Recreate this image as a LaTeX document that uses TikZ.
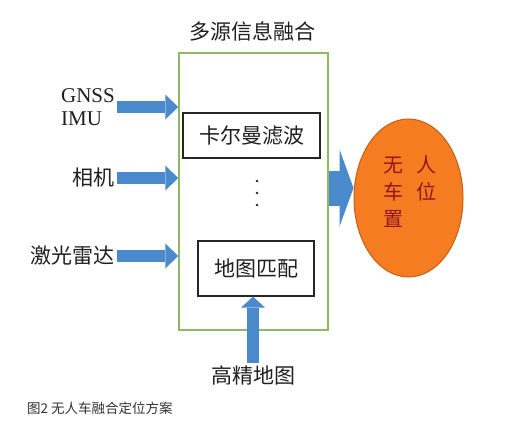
\documentclass[tikz,border=0pt]{standalone}
\usepackage{fontspec}
\setmainfont{Liberation Serif}
\newfontfamily\cjk{Noto Sans CJK SC}
\usetikzlibrary{arrows.meta, shapes.geometric}
\definecolor{boxgreen}{RGB}{140,186,96}
\definecolor{arrowblue}{RGB}{74,138,204}
\definecolor{posorange}{RGB}{245,124,32}
\definecolor{posedge}{RGB}{196,96,22}
\definecolor{posred}{RGB}{145,22,34}
\tikzset{every picture/.style={x=1pt,y=-1pt}}

\begin{document}
\begin{tikzpicture}[
    txt/.style={inner sep=2pt, text=black!88, font=\cjk\fontsize{21pt}{25pt}\selectfont},
    stagebox/.style={draw=black!85, line width=1.2pt, inner sep=0pt},
    inarrow/.style={draw=arrowblue, line width=12pt, -{Triangle[width=25pt,length=13pt,line width=0pt]}},
    uparrow/.style={draw=arrowblue, line width=12pt, -{Triangle[width=24pt,length=11pt,line width=0pt]}},
    outarrow/.style={draw=arrowblue, line width=35pt, -{Triangle[width=77pt,length=14pt,line width=0pt]}}
]
    \path[use as bounding box, fill=white] (0,0) rectangle (518,424);

    % Fusion block and its title
    \node[draw=boxgreen, line width=1.5pt, minimum width=149pt, minimum height=277pt, inner sep=0pt] (fuse) at (253.5,191.5) {};
    \node[txt] (title) at (252,31) {多源信息融合};

    % Inner stages
    \node[stagebox, txt, minimum width=137pt, minimum height=45pt] (kalman) at (251.5,135.5) {卡尔曼滤波};
    \node[stagebox, txt, minimum width=116pt, minimum height=55pt] (match) at (256,268.5) {地图匹配};
    \foreach \y in {181,193,205} {
        \fill[black!85] (257,\y) circle (1.4);
    }

    % Sensor inputs
    \node[inner sep=2pt, anchor=east, align=left, text=black!88, font=\fontsize{21pt}{23pt}\selectfont] (gnss) at (117,107) {GNSS\\IMU};
    \node[txt, anchor=east] (camera) at (117,178) {相机};
    \node[txt, anchor=east] (lidar) at (117,256) {激光雷达};
    \draw[inarrow] (gnss.east) -- (gnss.east -| fuse.west);
    \draw[inarrow] (camera.east) -- (camera.east -| fuse.west);
    \draw[inarrow] (lidar.east) -- (lidar.east -| fuse.west);

    % HD map into map matching
    \node[txt] (hdmap) at (253,375) {高精地图};
    \draw[uparrow] (hdmap.north) -- (hdmap.north |- match.south);

    % Output: vehicle position
    \node[ellipse, draw=posedge, line width=1pt, fill=posorange, minimum width=109pt, minimum height=158pt, inner sep=0pt] (pos) at (408.5,198) {};
    \node[text=posred, align=left, inner sep=0pt, font=\cjk\fontsize{20pt}{27pt}\selectfont] (posname) at (409.5,192) {无\hspace{13pt}人\\车\hspace{13pt}位\\置};
    \coordinate (outstart) at ([yshift=3.5pt]fuse.east);
    \draw[outarrow] (outstart) -- (outstart -| pos.west);

    % Caption
    \node[anchor=west, inner sep=0pt, text=black!80, font=\cjk\fontsize{13.5pt}{16pt}\selectfont] (caption) at (27,408) {图2 无人车融合定位方案};
\end{tikzpicture}
\end{document}
